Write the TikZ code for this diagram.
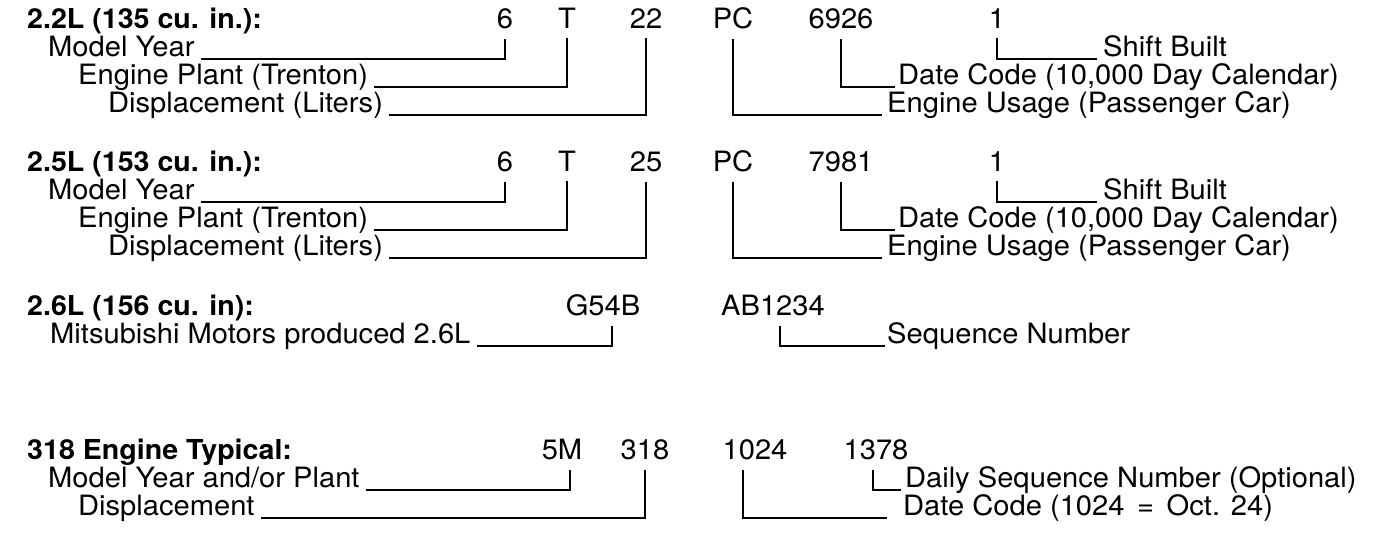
\documentclass[tikz,border=0pt]{standalone}
\usepackage{fontspec}
\setmainfont{TeX Gyre Heros}[FakeStretch=1.04]
\begin{document}
\begin{tikzpicture}[x=1pt,y=-1pt,
  lbl/.style={inner sep=0pt, anchor=base west, font=\fontsize{28}{32}\selectfont},
  code/.style={inner sep=0pt, anchor=base, font=\fontsize{28}{32}\selectfont},
  hdr/.style={inner sep=0pt, anchor=base west, font=\bfseries\fontsize{27.5}{32}\selectfont},
  ln/.style={line width=1.8pt, line cap=butt, line join=miter}]
\useasboundingbox (0,0) rectangle (1385,554);

% ---------- Block 1 ----------
\node[hdr]  (h1) at (27,28) {2.2L (135 cu. in.):};
\node[code] (a6) at (505,28) {6};
\node[code] (aT) at (567,28) {T};
\node[code] (a22) at (646,28) {22};
\node[code] (aPC) at (733,28) {PC};
\node[code] (aDC) at (841,28) {6926};
\node[code] (a1) at (997,28) {1};
\node[lbl] (aMY) at (48,56) {Model Year};
\node[lbl] (aEP) at (78,84) {Engine Plant (Trenton)};
\node[lbl] (aDL) at (108,112) {Displacement (Liters)};
\node[lbl] (aSB) at (1103,56) {Shift Built};
\node[lbl] (aDA) at (898,84) {Date Code (10,000 Day Calendar)};
\node[lbl] (aEU) at (887,112) {Engine Usage (Passenger Car)};
\draw[ln] ([xshift=6pt,yshift=-3pt]aMY.base east) -| ([yshift=-10pt]a6.south);
\draw[ln] ([xshift=6pt,yshift=-3pt]aEP.base east) -| ([yshift=-10pt]aT.south);
\draw[ln] ([xshift=6pt,yshift=-3pt]aDL.base east) -| ([yshift=-10pt]a22.south);
\draw[ln] ([yshift=-10pt]a1.south) |- ([xshift=-6pt,yshift=-3pt]aSB.base west);
\draw[ln] ([yshift=-10pt]aDC.south) |- ([xshift=-3pt,yshift=-3pt]aDA.base west);
\draw[ln] ([yshift=-10pt]aPC.south) |- ([xshift=-5pt,yshift=-3pt]aEU.base west);

% ---------- Block 2 ----------
\node[hdr]  (h2) at (27,171) {2.5L (153 cu. in.):};
\node[code] (b6) at (505,171) {6};
\node[code] (bT) at (567,171) {T};
\node[code] (b25) at (646,171) {25};
\node[code] (bPC) at (733,171) {PC};
\node[code] (bDC) at (841,171) {7981};
\node[code] (b1) at (997,171) {1};
\node[lbl] (bMY) at (48,199) {Model Year};
\node[lbl] (bEP) at (78,227) {Engine Plant (Trenton)};
\node[lbl] (bDL) at (108,255) {Displacement (Liters)};
\node[lbl] (bSB) at (1103,199) {Shift Built};
\node[lbl] (bDA) at (898,227) {Date Code (10,000 Day Calendar)};
\node[lbl] (bEU) at (887,255) {Engine Usage (Passenger Car)};
\draw[ln] ([xshift=6pt,yshift=-3pt]bMY.base east) -| ([yshift=-10pt]b6.south);
\draw[ln] ([xshift=6pt,yshift=-3pt]bEP.base east) -| ([yshift=-10pt]bT.south);
\draw[ln] ([xshift=6pt,yshift=-3pt]bDL.base east) -| ([yshift=-10pt]b25.south);
\draw[ln] ([yshift=-10pt]b1.south) |- ([xshift=-6pt,yshift=-3pt]bSB.base west);
\draw[ln] ([yshift=-10pt]bDC.south) |- ([xshift=-3pt,yshift=-3pt]bDA.base west);
\draw[ln] ([yshift=-10pt]bPC.south) |- ([xshift=-5pt,yshift=-3pt]bEU.base west);

% ---------- Block 3 ----------
\node[hdr]  (h3) at (27,315) {2.6L (156 cu. in):};
\node[code] (cG) at (603,315) {G54B};
\node[code,anchor=base west] (cAB) at (721,315) {AB1234};
\node[lbl] (cMM) at (50,343) {Mitsubishi Motors produced 2.6L};
\node[lbl] (cSN) at (887,343) {Sequence Number};
\draw[ln] ([xshift=6pt,yshift=-3pt]cMM.base east) -| ([xshift=9pt,yshift=-10pt]cG.south);
\draw[ln] ([xshift=7pt,yshift=-10pt]cAB.south) |- ([xshift=-2pt,yshift=-3pt]cSN.base west);

% ---------- Block 4 ----------
\node[hdr]  (h4) at (27,459) {318 Engine Typical:};
\node[code] (d5M) at (562,459) {5M};
\node[code] (d318) at (645,459) {318};
\node[code] (d1024) at (755,459) {1024};
\node[code] (d1378) at (876,459) {1378};
\node[lbl] (dMY) at (48,487) {Model Year and/or Plant};
\node[lbl] (dDP) at (78,515) {Displacement};
\node[lbl] (dDS) at (905,487) {Daily Sequence Number (Optional)};
\node[lbl] (dDC) at (903,515) {Date Code (1024\hspace{0.45em}=\hspace{0.45em}Oct. 24)};
\draw[ln] ([xshift=6pt,yshift=-3pt]dMY.base east) -| ([xshift=8pt,yshift=-10pt]d5M.south);
\draw[ln] ([xshift=6pt,yshift=-3pt]dDP.base east) -| ([yshift=-10pt]d318.south);
\draw[ln] ([xshift=-3pt,yshift=-10pt]d1378.south) |- ([xshift=-4pt,yshift=-3pt]dDS.base west);
\draw[ln] ([xshift=-12pt,yshift=-10pt]d1024.south) |- ([xshift=-16pt,yshift=-3pt]dDC.base west);
\end{tikzpicture}
\end{document}
